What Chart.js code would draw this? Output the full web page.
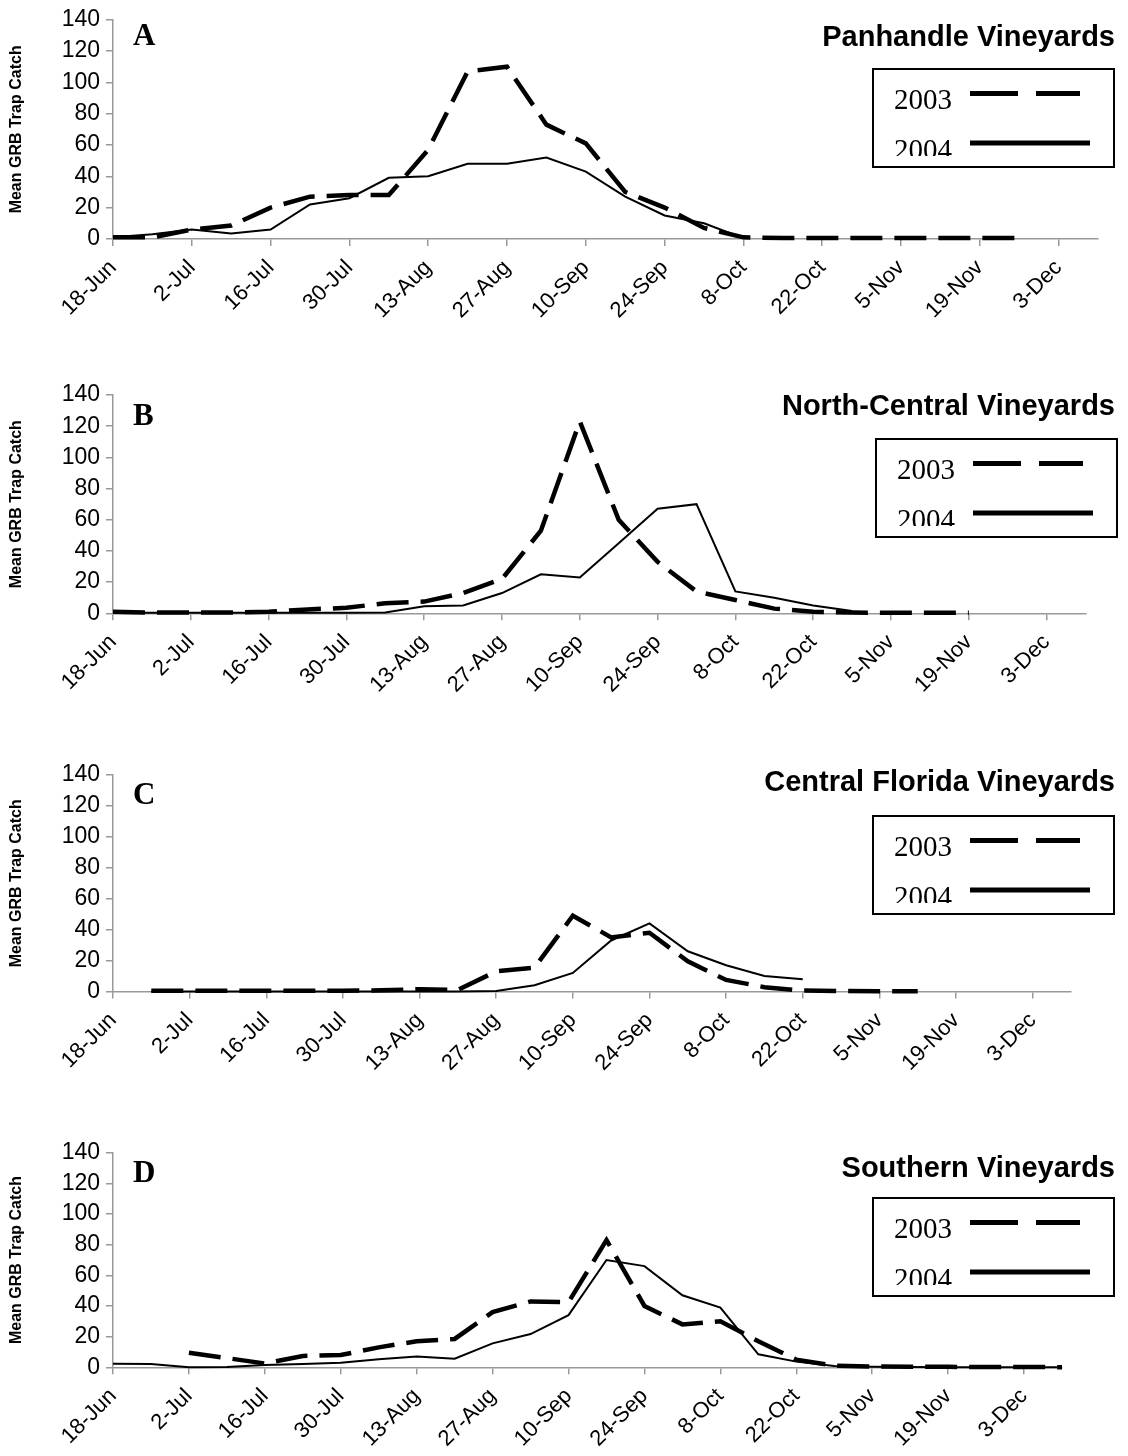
<!DOCTYPE html>
<html><head><meta charset="utf-8">
<script src="https://cdn.jsdelivr.net/npm/chart.js@4"></script>
<style>
html,body{margin:0;padding:0;background:#fff;}
#wrap{position:relative;width:1128px;height:1456px;overflow:hidden;background:#fff;}
canvas{position:absolute;left:0;}
</style></head><body><div id="wrap"></div>
<script>
// ---- data ----
const weeks = ['18-Jun','25-Jun','2-Jul','9-Jul','16-Jul','23-Jul','30-Jul','6-Aug','13-Aug','20-Aug','27-Aug','3-Sep','10-Sep','17-Sep','24-Sep','1-Oct','8-Oct','15-Oct','22-Oct','29-Oct','5-Nov','12-Nov','19-Nov','26-Nov','3-Dec','10-Dec'];
const yTicks = [0,20,40,60,80,100,120,140];
const seriesLabels = ['2003','2004'];
const panelLetters = ['A','B','C','D'];
const panelTitles = ['Panhandle Vineyards','North-Central Vineyards','Central Florida Vineyards','Southern Vineyards'];
const yAxisTitle = 'Mean GRB Trap Catch';

const panhandle2003 = [1,1,6,8.5,20,27,28,28,57,107,110,73,61,30,20,7,1,0.5,0.5,0.5,0.5,0.5,0.5,0.5,null,null];
const panhandle2004 = [1,3,6,3.5,6,22,26,39,40,48,48,52,43,27,15,10,0.5,null,null,null,null,null,null,null,null,null];
const northCentral2003 = [1,0.5,0.5,0.5,1,2.5,3.5,6.5,7.5,13,22,53,123,60,33,14,8.5,3,1,0.5,0.3,0.3,0.3,null,null,null];
const northCentral2004 = [0.3,0.3,0.3,0.3,0.3,0.3,0.3,0.5,4.5,5,13,25,23,45,67,70,14,10,5,1.5,null,null,null,null,null,null];
const centralFlorida2003 = [null,0.5,0.5,0.5,0.5,0.5,0.5,0.8,1.5,1,13,15.5,49,35,38,19.5,7.5,2.8,0.6,0.3,0.2,0.2,null,null,null,null];
const centralFlorida2004 = [null,0,0,0,0,0,0,0,0,0,0.3,4,12,33,44,26,17,10,8,null,null,null,null,null,null,null];
const southern2003 = [null,null,9.5,6,2.5,7.4,8,13,17,18.5,36,43,42.5,83,40,28,30,17,5,1,0.5,0.3,0.3,0.2,0.2,0.1];
const southern2004 = [2.3,2.2,0,0.2,1.5,2.2,3,5.2,7,5.6,15.6,21.7,34,70,66,47,39,8.5,3.7,0.9,0.4,0.2,0.1,0,0,0];

const panelSeries = [
  [panhandle2003, panhandle2004],
  [northCentral2003, northCentral2004],
  [centralFlorida2003, centralFlorida2004],
  [southern2003, southern2004]
];

// ---- layout (page pixels) ----
const layouts = [
  {top:0,    h:370, plotTop:17.7,  plotBottom:238.9, right:1098,   titleY:38,   boxX:873, boxY:69,   letterY:45},
  {top:370,  h:380, plotTop:395,   plotBottom:613.3, right:1085.5, titleY:407,  boxX:876, boxY:439,  letterY:425},
  {top:750,  h:380, plotTop:775,   plotBottom:991.5, right:1071,   titleY:783,  boxX:873, boxY:816,  letterY:804},
  {top:1130, h:326, plotTop:1152.7,plotBottom:1367.3,right:1062,   titleY:1169, boxX:873, boxY:1198, letterY:1182}
];

const SANS = '"Liberation Sans", Arial, sans-serif';
const SERIF = '"Liberation Serif", "Times New Roman", serif';
const AXIS = '#999999';

const decor = {
  id: 'panelDecor',
  afterDraw(chart, args, o) {
    const ctx = chart.ctx, ca = chart.chartArea, t = o.top;
    ctx.save();
    ctx.fillStyle = '#000';
    // y-axis title
    ctx.save();
    ctx.translate(17, (ca.top + ca.bottom) / 2);
    ctx.rotate(-Math.PI / 2);
    ctx.font = 'bold 16px ' + SANS;
    ctx.textAlign = 'center'; ctx.textBaseline = 'middle';
    ctx.fillText(yAxisTitle, 0, 0);
    ctx.restore();
    // panel letter
    ctx.font = 'bold 31px ' + SERIF;
    ctx.textAlign = 'left'; ctx.textBaseline = 'alphabetic';
    ctx.fillText(o.letter, 133, o.letterY - t);
    // title
    ctx.font = 'bold 29px ' + SANS;
    ctx.textAlign = 'right'; ctx.textBaseline = 'middle';
    ctx.fillText(o.title, 1115, o.titleY - t);
    // legend box
    const bx = o.boxX, by = o.boxY - t, bw = 241, bh = 98;
    ctx.fillStyle = '#fff'; ctx.fillRect(bx, by, bw, bh);
    ctx.lineWidth = 2; ctx.strokeStyle = '#000'; ctx.strokeRect(bx, by, bw, bh);
    ctx.fillStyle = '#000';
    ctx.font = '29px ' + SERIF;
    ctx.textAlign = 'left'; ctx.textBaseline = 'alphabetic';
    ctx.fillText(seriesLabels[0], bx + 21, by + 40);
    ctx.save();
    ctx.beginPath(); ctx.rect(bx, by + 50, bw, 37); ctx.clip();
    ctx.fillText(seriesLabels[1], bx + 21, by + 90);
    ctx.restore();
    ctx.lineWidth = 5; ctx.lineCap = 'butt';
    ctx.setLineDash([48, 18]);
    ctx.beginPath(); ctx.moveTo(bx + 97, by + 24.5); ctx.lineTo(bx + 207, by + 24.5); ctx.stroke();
    ctx.setLineDash([]);
    ctx.beginPath(); ctx.moveTo(bx + 97, by + 74); ctx.lineTo(bx + 217, by + 74); ctx.stroke();
    ctx.restore();
  }
};

const wrap = document.getElementById('wrap');
layouts.forEach((L, p) => {
  const cv = document.createElement('canvas');
  cv.width = 1128; cv.height = L.h;
  cv.style.top = L.top + 'px'; cv.style.width = '1128px'; cv.style.height = L.h + 'px';
  wrap.appendChild(cv);
  const xH = L.h - (L.plotBottom - L.top);
  new Chart(cv, {
    type: 'line',
    data: {
      labels: weeks,
      datasets: [
        {label: seriesLabels[0], data: panelSeries[p][0], borderColor: '#000', borderWidth: 4.5, borderDash: [32, 12], pointRadius: 0, tension: 0, fill: false, clip: false, borderCapStyle: 'butt'},
        {label: seriesLabels[1], data: panelSeries[p][1], borderColor: '#000', borderWidth: 2, pointRadius: 0, tension: 0, fill: false, clip: false}
      ]
    },
    options: {
      responsive: false, animation: false, devicePixelRatio: 1,
      layout: {padding: {top: L.plotTop - L.top, right: 1128 - L.right, left: 0, bottom: 0}},
      plugins: {
        legend: {display: false}, tooltip: {enabled: false},
        panelDecor: {top: L.top, letter: panelLetters[p], title: panelTitles[p], titleY: L.titleY, boxX: L.boxX, boxY: L.boxY, letterY: L.letterY}
      },
      scales: {
        x: {
          type: 'category', offset: false,
          afterFit(s) { s.height = xH; },
          ticks: {
            autoSkip: false, minRotation: 45, maxRotation: 45, padding: 9,
            color: '#000', font: {family: SANS, size: 22},
            callback: (v, i) => (i % 2 === 0 ? weeks[i] : '')
          },
          grid: {drawOnChartArea: false, tickLength: 7, lineWidth: 1.5,
                 color: c => (c.index % 2 === 0 ? AXIS : 'rgba(0,0,0,0)')},
          border: {display: true, color: AXIS, width: 1.5}
        },
        y: {
          min: 0, max: 140,
          afterFit(s) { s.width = 113; },
          afterBuildTicks(s) { s.ticks = yTicks.map(v => ({value: v})); },
          ticks: {color: '#000', font: {family: SANS, size: 23}, padding: 6},
          grid: {drawOnChartArea: false, tickLength: 7, color: AXIS, lineWidth: 1.5},
          border: {display: true, color: AXIS, width: 1.5}
        }
      }
    },
    plugins: [decor]
  });
});
</script>
</body></html>
